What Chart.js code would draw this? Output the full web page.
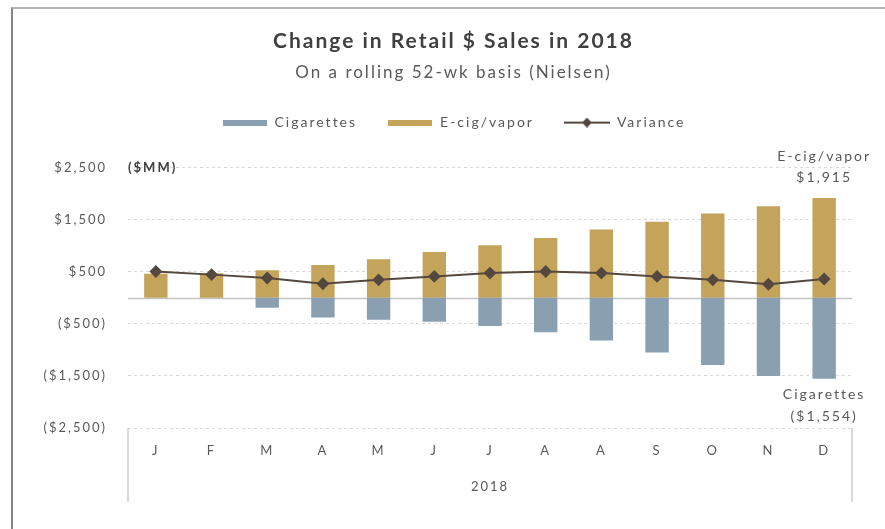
<!DOCTYPE html>
<html>
<head>
<meta charset="utf-8">
<script src="https://cdn.jsdelivr.net/npm/chart.js@4/dist/chart.umd.min.js"></script>
<style>
  body { margin: 0; background: #fff; }
  #wrap { position: relative; width: 885px; height: 529px; overflow: hidden; }
  #frame { position: absolute; left: 11px; top: 7px; width: 900px; height: 540px;
           border-top: 2px solid #b4b4b4; border-left: 2px solid #858585; }
  canvas { position: absolute; left: 0; top: 0; }
</style>
</head>
<body>
<div id="wrap">
  <div id="frame"></div>
  <canvas id="myChart" width="885" height="529"></canvas>
</div>
<script>
// data ($MM)
var months     = ["J", "F", "M", "A", "M", "J", "J", "A", "A", "S", "O", "N", "D"];
var cigarettes = [0, 0, -190, -380, -420, -460, -540, -660, -820, -1050, -1290, -1500, -1554];
var ecig       = [460, 470, 530, 630, 740, 880, 1010, 1150, 1310, 1460, 1620, 1760, 1915];
var variance   = [505, 445, 380, 270, 345, 410, 475, 505, 475, 410, 345, 260, 361];
var yTicks     = [-2500, -1500, -500, 500, 1500, 2500];

var blue = "#8aa0b0";
var gold = "#c4a35a";
var brown = "#54483f";
var grey = "#595959";
var fontFam = "Lato, 'Open Sans', sans-serif";
var spacing = "2px";

function money(v) {
  var s = "$" + Math.abs(v).toLocaleString("en-US");
  return v < 0 ? "(" + s + ")" : s;
}

// legend icons
function barIcon(color) {
  var c = document.createElement("canvas");
  c.width = 44; c.height = 6;
  var g = c.getContext("2d");
  g.fillStyle = color;
  g.fillRect(0, 0, 44, 6);
  return c;
}
function lineIcon() {
  var c = document.createElement("canvas");
  c.width = 46; c.height = 10;
  var g = c.getContext("2d");
  g.strokeStyle = brown; g.lineWidth = 2;
  g.beginPath(); g.moveTo(0, 5); g.lineTo(46, 5); g.stroke();
  g.fillStyle = brown;
  g.beginPath(); g.moveTo(23, 0); g.lineTo(28, 5); g.lineTo(23, 10); g.lineTo(18, 5); g.closePath(); g.fill();
  return c;
}
var icons = [barIcon(blue), barIcon(gold), lineIcon()];

var extras = {
  id: "extras",
  beforeLayout: function (chart) {
    chart.ctx.letterSpacing = spacing;
    var lg = chart.legend;
    if (lg && !lg._gapDone) {
      var fit = lg.fit;
      lg.fit = function () { fit.call(this); this.height += 28; };
      lg._gapDone = true;
    }
  },
  afterLayout: function (chart) {
    // let the long tick labels run past the axis box instead of being clipped
    chart.scales.y.left = 14;
  },
  beforeDraw: function (chart) {
    chart.ctx.letterSpacing = spacing;
  },
  beforeDatasetsDraw: function (chart) {
    var ctx = chart.ctx, a = chart.chartArea, y = chart.scales.y;
    var y0 = Math.round(y.getPixelForValue(0)) + 0.5;
    ctx.save();
    ctx.strokeStyle = "#c4c4c4";
    ctx.lineWidth = 1.5;
    ctx.beginPath(); ctx.moveTo(a.left, y0); ctx.lineTo(a.right, y0); ctx.stroke();
    // category axis side lines
    ctx.strokeStyle = "#d0d0d0";
    ctx.lineWidth = 1.5;
    ctx.beginPath();
    ctx.moveTo(a.left, a.bottom); ctx.lineTo(a.left, a.bottom + 74);
    ctx.moveTo(a.right, a.bottom); ctx.lineTo(a.right, a.bottom + 74);
    ctx.stroke();
    ctx.restore();
  },
  afterDatasetsDraw: function (chart) {
    var ctx = chart.ctx, a = chart.chartArea, y = chart.scales.y;
    var last = months.length - 1;
    var bx = chart.getDatasetMeta(1).data[last].x;
    var top = y.getPixelForValue(ecig[last]);
    var bot = y.getPixelForValue(cigarettes[last]);
    ctx.save();
    ctx.font = "14px " + fontFam;
    ctx.fillStyle = grey;
    ctx.textAlign = "center";
    ctx.textBaseline = "middle";
    ctx.fillText("E-cig/vapor", bx, top - 42);
    ctx.fillText(money(ecig[last]), bx, top - 21);
    ctx.fillText("Cigarettes", bx, bot + 16);
    ctx.fillText(money(cigarettes[last]), bx, bot + 38);
    ctx.font = "bold 13px " + fontFam;
    ctx.fillStyle = "#404040";
    ctx.textAlign = "left";
    ctx.fillText("($MM)", a.left, y.getPixelForValue(2500));
    ctx.restore();
  }
};

new Chart("myChart", {
  data: {
    labels: months,
    datasets: [
      { type: "bar", label: "Cigarettes", data: cigarettes, backgroundColor: blue,
        stack: "s", order: 1, barPercentage: 0.42, categoryPercentage: 1 },
      { type: "bar", label: "E-cig/vapor", data: ecig, backgroundColor: gold,
        stack: "s", order: 1, barPercentage: 0.42, categoryPercentage: 1 },
      { type: "line", label: "Variance", data: variance, borderColor: brown, borderWidth: 2,
        pointStyle: "rectRot", pointRadius: 5, pointBackgroundColor: brown, pointBorderColor: brown,
        stack: "v", order: 0, tension: 0 }
    ]
  },
  options: {
    responsive: false,
    animation: false,
    layout: { padding: { left: 55, right: 33, top: 0, bottom: 20 } },
    plugins: {
      title: { display: true, text: "Change in Retail $ Sales in 2018", color: "#404040",
               font: { family: fontFam, size: 21, weight: "bold" }, padding: { top: 29, bottom: 4 } },
      subtitle: { display: true, text: "On a rolling 52-wk basis (Nielsen)", color: grey,
                  font: { family: fontFam, size: 17 }, padding: { top: 4, bottom: 3 } },
      legend: {
        display: true,
        labels: {
          usePointStyle: true, pointStyleWidth: 46, boxHeight: 10,
          padding: 30, color: grey, font: { family: fontFam, size: 14 },
          generateLabels: function (chart) {
            return chart.data.datasets.map(function (ds, i) {
              return { text: ds.label, pointStyle: icons[i], datasetIndex: i, hidden: false,
                       fontColor: grey, lineWidth: 0, strokeStyle: "rgba(0,0,0,0)", fillStyle: "rgba(0,0,0,0)" };
            });
          }
        }
      },
      tooltip: { enabled: false }
    },
    scales: {
      x: {
        stacked: true,
        grid: { display: false, drawTicks: false },
        border: { display: false },
        ticks: { color: grey, font: { family: fontFam, size: 13 }, padding: 15 },
        title: { display: true, text: "2018", color: grey, font: { family: fontFam, size: 13 },
                 padding: { top: 0, bottom: 14 } },
        afterFit: function (s) { s.height = 81; }
      },
      y: {
        stacked: true,
        min: -2500, max: 2500,
        afterBuildTicks: function (s) { s.ticks = yTicks.map(function (v) { return { value: v }; }); },
        grid: { color: "#d9d9d9", lineWidth: 1, drawTicks: false },
        border: { display: false, dash: [3, 3] },
        ticks: { color: grey, font: { family: fontFam, size: 13 }, padding: 21,
                 callback: function (v) { return money(v); } },
        afterFit: function (s) { s.width = 73; }
      }
    }
  },
  plugins: [extras]
});
</script>
</body>
</html>
